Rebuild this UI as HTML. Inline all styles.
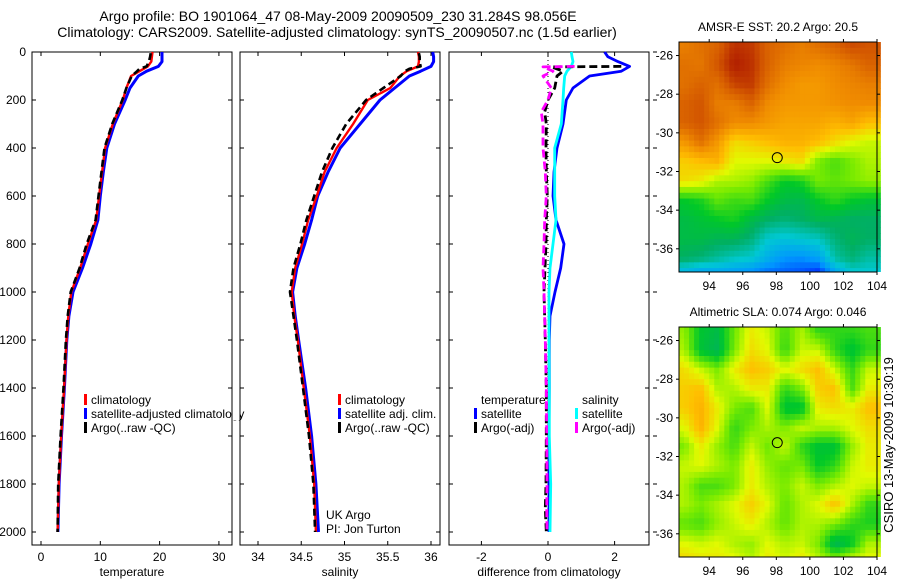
<!DOCTYPE html>
<html><head><meta charset="utf-8"><style>
html,body{margin:0;padding:0;background:#fff;}
svg{display:block;font-family:"Liberation Sans",Arial,sans-serif;}
</style></head><body>
<svg id="fig" width="900" height="580" viewBox="0 0 900 580">
<rect width="900" height="580" fill="#fff"/>
<text x="338" y="21" font-size="14" text-anchor="middle">Argo profile: BO 1901064_47 08-May-2009 20090509_230 31.284S 98.056E</text>
<text x="337" y="37" font-size="14" text-anchor="middle">Climatology: CARS2009. Satellite-adjusted climatology: synTS_20090507.nc (1.5d earlier)</text>
<g id="plots"></g>
<text x="778" y="31" font-size="12" text-anchor="middle">AMSR-E SST: 20.2 Argo: 20.5</text>
<text x="778" y="316" font-size="12" text-anchor="middle">Altimetric SLA: 0.074 Argo: 0.046</text>
<text transform="translate(893,445) rotate(-90)" font-size="13" text-anchor="middle">CSIRO 13-May-2009 10:30:19</text>
</svg>
<script>
// ---------- profile data ----------
const climDepth = [0,20,40,60,80,100,150,200,300,400,500,600,700,800,900,1000,1100,1200,1400,1600,1800,2000];
const tempClim  = [18.8,18.7,18.6,18.0,16.6,15.2,14.4,13.8,12.1,10.8,10.3,9.8,9.3,7.9,6.6,5.1,4.6,4.3,3.9,3.4,3.0,2.8];
const tempSat   = [20.4,20.4,20.4,19.8,17.8,16.4,15.0,14.2,12.4,11.1,10.5,10.0,9.6,8.4,7.0,5.4,4.7,4.35,3.95,3.45,3.05,2.85];
const salClim   = [35.85,35.86,35.86,35.85,35.72,35.64,35.53,35.27,35.10,34.91,34.77,34.68,34.58,34.51,34.43,34.39,34.42,34.46,34.53,34.60,34.65,34.67];
const salSat    = [36.02,36.03,36.03,36.0,35.88,35.75,35.58,35.41,35.18,34.95,34.81,34.69,34.62,34.54,34.45,34.40,34.43,34.47,34.55,34.62,34.67,34.70];
const argoDepth = [5,20,40,60,70,80,100,150,200,300,400,500,600,700,800,900,1000,1100,1200,1400,1600,1800,2000];
const tempArgo  = [18.5,18.4,18.2,17.8,16.6,16.2,15.3,14.4,13.7,12.0,10.7,10.2,9.7,9.2,7.7,6.5,5.0,4.5,4.2,3.8,3.3,2.9,2.8];
const salArgo   = [35.86,35.87,35.87,35.88,35.75,35.7,35.65,35.45,35.25,35.02,34.86,34.74,34.65,34.56,34.49,34.41,34.37,34.41,34.45,34.52,34.59,34.64,34.66];
// difference panel
const diffDepth   = [0,20,40,60,80,100,150,200,300,400,500,600,700,800,900,1000,1100,1200,1400,1600,1800,2000];
const dTempSat    = [1.7,1.8,2.1,2.45,2.2,1.25,0.75,0.55,0.45,0.27,0.18,0.15,0.24,0.48,0.38,0.21,0.06,0.04,0.04,0.03,0.03,0.03];
const dSalSat     = [0.7,0.72,0.75,0.7,0.57,0.5,0.47,0.45,0.4,0.2,0.2,0.2,0.24,0.15,0.06,0.03,0.03,0.03,0.04,0.04,0.08,0.06];
const argoDiffDepth = [60,62,80,100,150,200,250,300,400,500,600,700,800,900,1000,1200,1400,1600,1800,1900,2000];
const dTempArgo   = [2.2,0.1,0.45,0.27,0.2,0.0,-0.1,-0.05,-0.06,-0.05,-0.02,-0.05,-0.06,-0.09,-0.12,-0.08,-0.05,-0.05,-0.06,-0.08,-0.05];
const dSalArgo    = [0.8,-0.15,0.15,-0.15,0.1,0.0,-0.2,-0.15,-0.15,-0.08,-0.05,-0.1,-0.12,-0.15,-0.12,-0.08,-0.05,-0.04,-0.03,-0.04,-0.03];
const depthTicks = [0,200,400,600,800,1000,1200,1400,1600,1800,2000];
const tempTicks = [0,10,20,30];
const salTicks = [34,34.5,35,35.5,36];
const diffTicks = [-2,0,2];
// ---------- map data (rows: lat -25.5 .. -37.2, cols: lon 92.5 .. 103.5), normalized colour index ----------
const mapLons = [92.5,93.5,94.5,95.5,96.5,97.5,98.5,99.5,100.5,101.5,102.5,103.5];
const mapLats = [-25.5,-26.5,-27.5,-28.5,-29.5,-30.5,-31.5,-32.5,-33.5,-34.5,-35.5,-36.5,-37.2];
const sstField = [
[0.86,0.88,0.90,0.96,0.95,0.90,0.88,0.86,0.88,0.90,0.93,0.92],
[0.88,0.87,0.92,0.98,0.96,0.90,0.86,0.85,0.84,0.85,0.87,0.90],
[0.88,0.90,0.88,0.94,0.95,0.88,0.84,0.82,0.82,0.84,0.85,0.86],
[0.90,0.92,0.86,0.86,0.90,0.84,0.82,0.82,0.82,0.83,0.84,0.84],
[0.90,0.92,0.88,0.84,0.84,0.82,0.80,0.80,0.80,0.78,0.80,0.76],
[0.82,0.88,0.82,0.72,0.74,0.76,0.78,0.78,0.76,0.72,0.68,0.66],
[0.74,0.76,0.78,0.68,0.68,0.68,0.70,0.72,0.60,0.56,0.60,0.64],
[0.72,0.70,0.64,0.64,0.62,0.56,0.50,0.52,0.60,0.58,0.60,0.62],
[0.50,0.52,0.58,0.55,0.56,0.50,0.46,0.45,0.50,0.54,0.50,0.48],
[0.46,0.48,0.50,0.52,0.46,0.42,0.40,0.42,0.45,0.44,0.42,0.42],
[0.46,0.46,0.44,0.44,0.40,0.30,0.28,0.30,0.32,0.40,0.44,0.42],
[0.42,0.40,0.36,0.32,0.30,0.22,0.15,0.14,0.18,0.35,0.40,0.35],
[0.25,0.20,0.20,0.18,0.15,0.10,0.08,0.06,0.02,0.20,0.30,0.30]];
const slaField = [
[0.58,0.45,0.42,0.55,0.66,0.62,0.52,0.60,0.50,0.50,0.50,0.52],
[0.60,0.44,0.40,0.56,0.68,0.64,0.50,0.62,0.62,0.50,0.44,0.50],
[0.68,0.62,0.56,0.66,0.72,0.70,0.64,0.68,0.72,0.62,0.50,0.62],
[0.70,0.72,0.60,0.60,0.66,0.66,0.50,0.56,0.70,0.72,0.52,0.66],
[0.70,0.74,0.66,0.56,0.52,0.64,0.44,0.44,0.66,0.68,0.66,0.72],
[0.64,0.74,0.64,0.50,0.56,0.60,0.56,0.62,0.60,0.60,0.64,0.68],
[0.56,0.66,0.58,0.52,0.62,0.55,0.62,0.50,0.44,0.44,0.58,0.66],
[0.62,0.64,0.60,0.56,0.66,0.58,0.54,0.56,0.46,0.50,0.62,0.66],
[0.60,0.52,0.52,0.56,0.66,0.60,0.56,0.62,0.56,0.60,0.64,0.62],
[0.60,0.56,0.60,0.64,0.70,0.64,0.54,0.60,0.64,0.72,0.60,0.50],
[0.54,0.52,0.58,0.62,0.66,0.60,0.54,0.60,0.60,0.56,0.50,0.48],
[0.64,0.62,0.64,0.60,0.58,0.64,0.60,0.62,0.56,0.40,0.46,0.60],
[0.68,0.66,0.66,0.64,0.60,0.66,0.62,0.66,0.60,0.54,0.60,0.64]];
const lonTicks = [94,96,98,100,102,104];
const latTicks = [-26,-28,-30,-32,-34,-36];
const argoLon = 98.056, argoLat = -31.284;

const NS = "http://www.w3.org/2000/svg";
const root = document.getElementById('plots');
function el(tag, attrs, parent){ const e=document.createElementNS(NS,tag); for(const k in attrs) e.setAttribute(k,attrs[k]); (parent||root).appendChild(e); return e; }
function txt(x,y,s,anchor,size,parent){ const t=el('text',{x:x,y:y,'font-size':size||12,'text-anchor':anchor||'middle'},parent); t.textContent=s; return t; }

const yTop=52, yPerM=0.24;
const yD = d => yTop + d*yPerM;
const panels = [
 {x0:32,x1:232,v0:-1.52,px:5.93,ticks:tempTicks,label:'temperature',name:'temperature-panel'},
 {x0:240,x1:440,v0:33.792,px:86.5,ticks:salTicks,label:'salinity',name:'salinity-panel'},
 {x0:449,x1:649,v0:-2.973,px:33.3,ticks:diffTicks,label:'difference from climatology',name:'difference-panel'}
];
panels.forEach((p,i)=>{ p.sx = v => p.x0 + (v-p.v0)*p.px; });
const yBot=545;

function polyline(xs, ys, sx, color, w, dash, name){
  const pts = xs.map((v,i)=> sx(v).toFixed(1)+','+yD(ys[i]).toFixed(1)).join(' ');
  const a={points:pts,fill:'none',stroke:color,'stroke-width':w,'stroke-linejoin':'round'};
  if(dash) a['stroke-dasharray']=dash;
  const l=el('polyline',a);
  
  
  return l;
}

panels.forEach((p,i)=>{
  const g=el('g',{});
  
  
  const f=el('rect',{x:p.x0,y:yTop,width:p.x1-p.x0,height:yBot-yTop,fill:'none',stroke:'#000','stroke-width':1},g);
  
  
  p.ticks.forEach(t=>{
    const x=p.sx(t);
    el('line',{x1:x,x2:x,y1:yTop,y2:yTop+4,stroke:'#000'},g);
    el('line',{x1:x,x2:x,y1:yBot,y2:yBot-4,stroke:'#000'},g);
    const lb=txt(x,561,String(t),'middle',12,g);
    
    
  });
  depthTicks.forEach(d=>{
    const y=yD(d);
    el('line',{x1:p.x0,x2:p.x0+4,y1:y,y2:y,stroke:'#000'},g);
    el('line',{x1:p.x1,x2:p.x1-4,y1:y,y2:y,stroke:'#000'},g);
    if(i===0){ const lb=txt(26,y+4,String(d),'end',12,g);
      
       }
    if(i===2){ el('line',{x1:653,x2:657,y1:y,y2:y,stroke:'#000'},g); }
  });
  const xl=txt((p.x0+p.x1)/2,576,p.label,'middle',12,g);
  
  
});

const P1=panels[0], P2=panels[1], P3=panels[2];
polyline(tempSat, climDepth, P1.sx, '#0000ff', 3, null, 'temp-satellite-line');
polyline(tempClim, climDepth, P1.sx, '#ff0000', 2.4, null, 'temp-climatology-line');
polyline(tempArgo, argoDepth, P1.sx, '#000', 2.6, '7,4', 'temp-argo-line');
polyline(salSat, climDepth, P2.sx, '#0000ff', 3, null, 'sal-satellite-line');
polyline(salClim, climDepth, P2.sx, '#ff0000', 2.4, null, 'sal-climatology-line');
polyline(salArgo, argoDepth, P2.sx, '#000', 2.6, '7,4', 'sal-argo-line');
{ const z=el('line',{x1:P3.sx(0),x2:P3.sx(0),y1:yTop,y2:yD(2000),stroke:'#000','stroke-width':1,'stroke-dasharray':'1,3'});
  
   }
polyline(dTempSat, diffDepth, P3.sx, '#0000ff', 2.8, null, 'diff-temp-satellite-line');
polyline(dSalSat, diffDepth, P3.sx, '#00ffff', 2.8, null, 'diff-sal-satellite-line');
polyline(dTempArgo, argoDiffDepth, P3.sx, '#000', 2.8, '8,4', 'diff-temp-argo-line');
polyline(dSalArgo, argoDiffDepth, P3.sx, '#ff00ff', 2.8, '8,4', 'diff-sal-argo-line');

function legend(items, x, y, name){
  const g=el('g',{});
  
  
  items.forEach((it,k)=>{
    const yy=y+k*14;
    if(it.c) el('rect',{x:x,y:yy-10,width:3,height:11,fill:it.c},g);
    txt(x+7,yy,it.t,'start',12,g);
  });
}
legend([{c:'#ff0000',t:'climatology'},{c:'#0000ff',t:'satellite-adjusted climatology'},{c:'#000',t:'Argo(..raw -QC)'}],84,404,'temperature-legend');
legend([{c:'#ff0000',t:'climatology'},{c:'#0000ff',t:'satellite adj. clim.'},{c:'#000',t:'Argo(..raw -QC)'}],338,404,'salinity-legend');
legend([{c:null,t:'temperature'},{c:'#0000ff',t:'satellite'},{c:'#000',t:'Argo(-adj)'}],474,404,'diff-temperature-legend');
legend([{c:null,t:'salinity'},{c:'#00ffff',t:'satellite'},{c:'#ff00ff',t:'Argo(-adj)'}],575,404,'diff-salinity-legend');
{ const c=el('rect',{x:232.5,y:390,width:7,height:30,fill:'#fff'});   }
txt(326,519,'UK Argo','start',12);
txt(326,533,'PI: Jon Turton','start',12);

const stops=[[0,[0,40,255]],[0.15,[0,150,255]],[0.3,[0,200,210]],[0.42,[0,175,100]],[0.5,[0,200,40]],[0.6,[120,235,0]],[0.68,[225,250,0]],[0.76,[255,190,0]],[0.84,[240,140,0]],[0.92,[210,85,0]],[1,[165,10,0]]];
function cmap(v){ v=Math.max(0,Math.min(1,v)); for(let i=1;i<stops.length;i++){ if(v<=stops[i][0]){ const a=stops[i-1],b=stops[i],t=(v-a[0])/(b[0]-a[0]); return 'rgb('+a[1].map((c,j)=>Math.round(c+(b[1][j]-c)*t)).join(',')+')'; } } return 'rgb(165,10,0)'; }

function drawMap(field, offset, mx0, mx1, my0, my1, latTop, latBot, name){
  const g=el('g',{});
  
  
  const lon0=92.2, lon1=104.0;
  const sx = lon => mx0 + (lon-lon0)/(lon1-lon0)*(mx1-mx0);
  const sy = lat => my0 + (latTop-lat)/(latTop-latBot)*(my1-my0);
  const R=field.length, C=field[0].length;
  function sample(lon,lat){
    let fi=(lon-mapLons[0]); fi=Math.max(0,Math.min(C-1,fi));
    let fj=0; for(let j=0;j<R-1;j++){ if(lat<=mapLats[j] && lat>=mapLats[j+1]){ fj=j+(mapLats[j]-lat)/(mapLats[j]-mapLats[j+1]); break;} if(lat<mapLats[R-1]) fj=R-1; }
    if(lat>mapLats[0]) fj=0;
    const i0=Math.floor(fi), j0=Math.floor(fj), i1=Math.min(C-1,i0+1), j1=Math.min(R-1,j0+1), tx=fi-i0, ty=fj-j0;
    return field[j0][i0]*(1-tx)*(1-ty)+field[j0][i1]*tx*(1-ty)+field[j1][i0]*(1-tx)*ty+field[j1][i1]*tx*ty;
  }
  const dl=0.3, dlat=0.3;
  for(let lat=latTop; lat>latBot-1e-6; lat-=dlat){
    for(let lon=lon0; lon<lon1-1e-6; lon+=dl){
      const x=sx(lon), y=sy(lat), w=sx(lon+dl)-x+0.5, h=sy(lat-dlat)-y+0.5;
      el('rect',{x:x.toFixed(2),y:y.toFixed(2),width:w.toFixed(2),height:Math.min(h,my1-y).toFixed(2),fill:cmap(sample(lon+dl/2,lat-dlat/2)+offset)},g);
    }
  }
  el('rect',{x:mx0,y:my0,width:mx1-mx0,height:my1-my0,fill:'none',stroke:'#000'},g);
  lonTicks.forEach(t=>{ const x=sx(t); el('line',{x1:x,x2:x,y1:my1,y2:my1+3,stroke:'#000'},g); el('line',{x1:x,x2:x,y1:my0,y2:my0-3,stroke:'#000'},g);
    const lb=txt(x,my1+18,String(t),'middle',12,g);   });
  latTicks.forEach(t=>{ const y=sy(t); el('line',{x1:mx0,x2:mx0-3,y1:y,y2:y,stroke:'#000'},g); el('line',{x1:mx1,x2:mx1+3,y1:y,y2:y,stroke:'#000'},g);
    const lb=txt(mx0-6,y+4,String(t),'end',12,g);   });
  const c=el('circle',{cx:sx(argoLon),cy:sy(argoLat),r:5,fill:'none',stroke:'#000','stroke-width':1},g);
  
  
}
drawMap(sstField, 0, 679, 877, 42, 272, -25.3, -37.2, 'sst-map');
drawMap(slaField, 0.04, 679, 877, 327, 557, -25.3, -37.2, 'sla-map');
</script>
</body></html>
